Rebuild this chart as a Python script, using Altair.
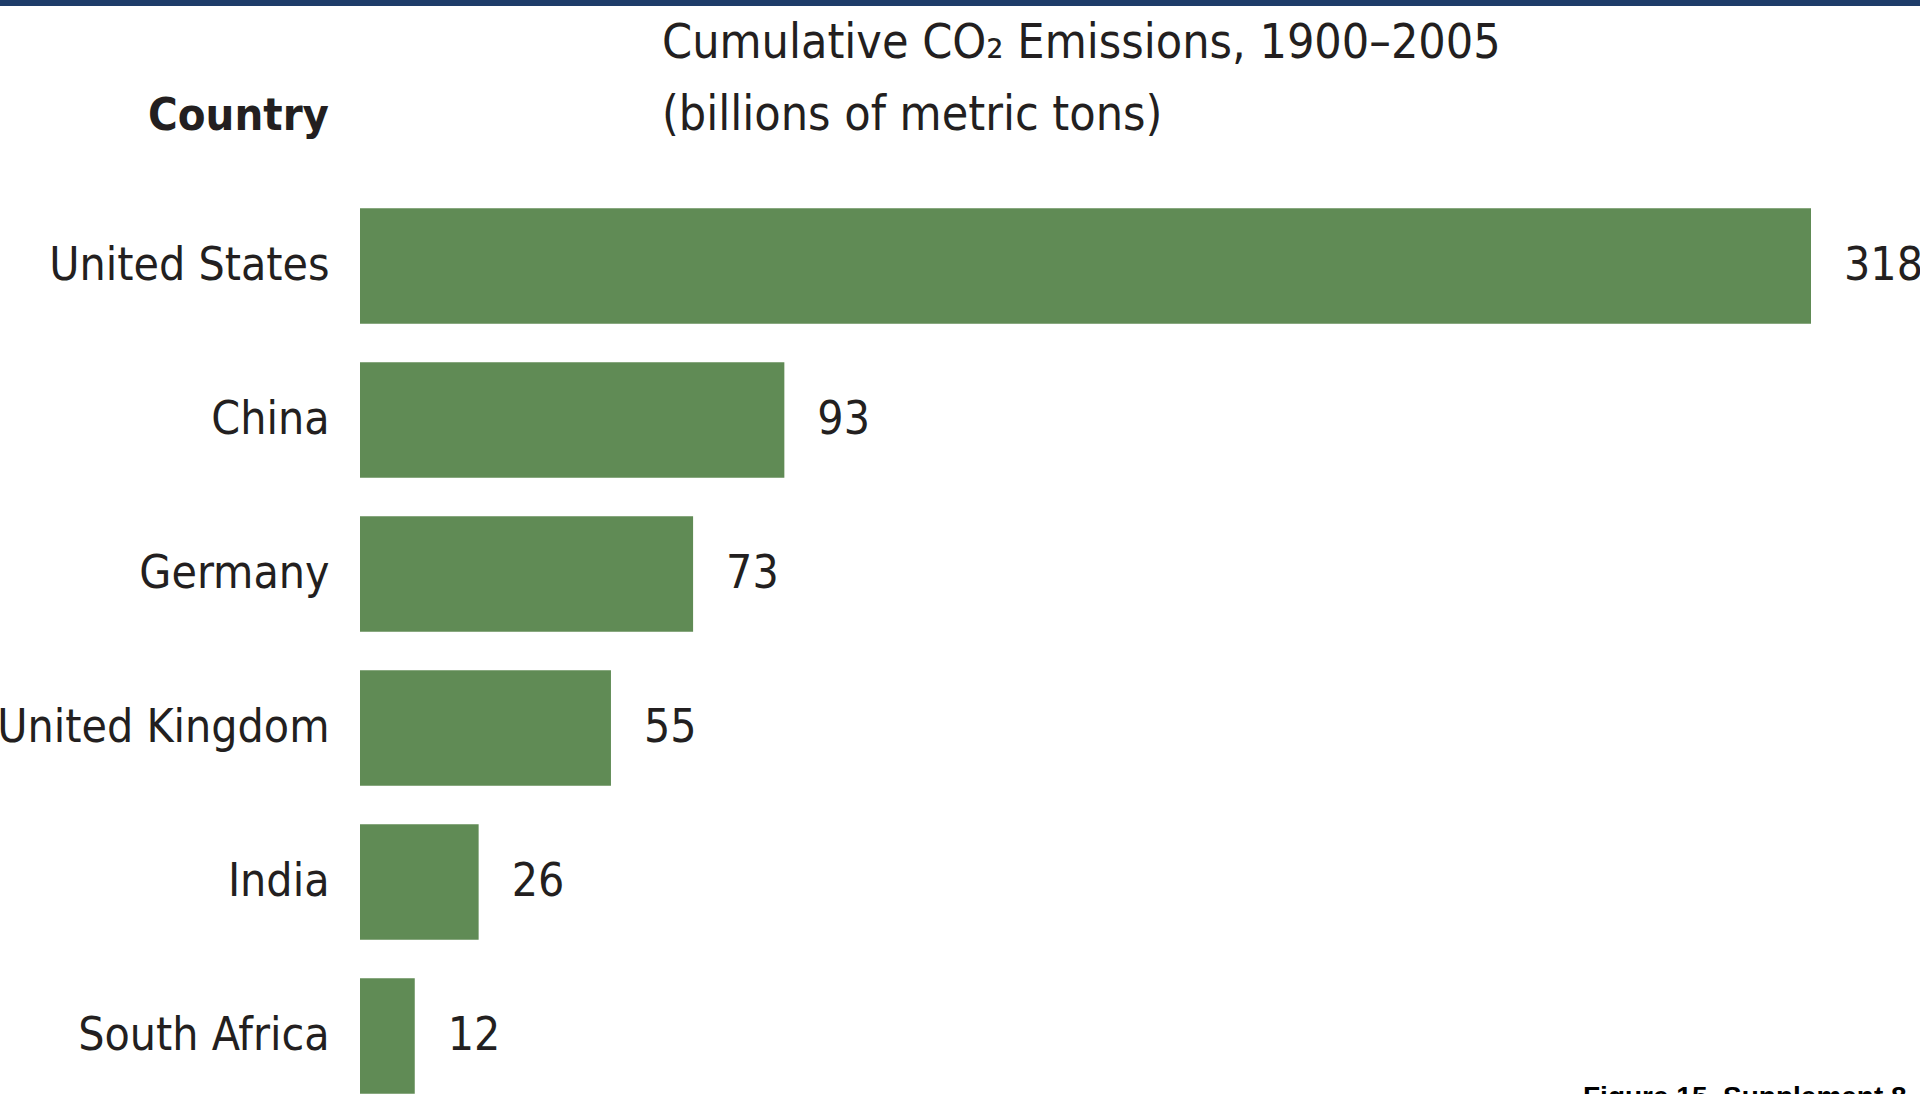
import altair as alt
import pandas as pd

# Cumulative CO2 emissions 1900-2005, billions of metric tons
countries = ["United States", "China", "Germany", "United Kingdom", "India", "South Africa"]
emissions = [318, 93, 73, 55, 26, 12]

title_line1 = "Cumulative CO\u2082 Emissions, 1900\u20132005"
title_line2 = "(billions of metric tons)"
row_header = "Country"
footer = "Figure 15, Supplement 8"

FONT = "DejaVu Sans Condensed, Liberation Sans Narrow, sans-serif"
INK = "#231F20"
GREEN = "#608B55"
NAVY = "#1E3C69"

df = pd.DataFrame({"country": countries, "value": emissions})

PLOT_W = 1451
PLOT_H = 905

x_enc = alt.X("value:Q", axis=None,
              scale=alt.Scale(domain=[0, max(emissions)], nice=False, zero=True))
y_enc = alt.Y("country:N", sort=countries, title=None,
              scale=alt.Scale(range=[0, 924], paddingInner=0.25, paddingOuter=0.125),
              axis=alt.Axis(domain=False, ticks=False, labelFont=FONT, labelFontSize=46,
                            labelColor=INK, labelPadding=31, labelLimit=600))

bars = alt.Chart(df).mark_bar(color=GREEN, clip=True).encode(x=x_enc, y=y_enc)

values = alt.Chart(df).mark_text(
    align="left", baseline="middle", dx=33, font=FONT, fontSize=46, color=INK
).encode(x=x_enc, y=y_enc, text="value:Q")

# header texts above the plot area (y is relative to the plot origin)
def label(text, x, y, **kw):
    return alt.Chart(pd.DataFrame({"t": [text]})).mark_text(
        font=FONT, color=INK, baseline="alphabetic", **kw
    ).encode(x=alt.value(x), y=alt.value(y), text="t:N")

t1 = label(title_line1, 302, -131, align="left", fontSize=48)
t2 = label(title_line2, 302, -59, align="left", fontSize=48)
hdr = label(row_header, -31, -59, align="right", fontSize=45, fontWeight="bold")
foot = alt.Chart(pd.DataFrame({"t": [footer]})).mark_text(
    font="Liberation Sans, Arial, sans-serif", fontWeight="bold", fontSize=28,
    color="#000000", align="left", baseline="top"
).encode(x=alt.value(1223), y=alt.value(895), text="t:N")

band = alt.Chart(pd.DataFrame({"a": [0]})).mark_rect(color=NAVY).encode(
    x=alt.value(-360), x2=alt.value(1560), y=alt.value(-189), y2=alt.value(-183)
)

chart = alt.layer(band, bars, values, t1, t2, hdr, foot).properties(
    width=PLOT_W,
    height=PLOT_H,
    autosize=alt.AutoSizeParams(type="none"),
    padding={"left": 360, "top": 189, "right": 109, "bottom": 0},
    background="white",
).configure_view(stroke=None)

chart.save("out.html", embed_options={"renderer": "svg", "actions": False})
